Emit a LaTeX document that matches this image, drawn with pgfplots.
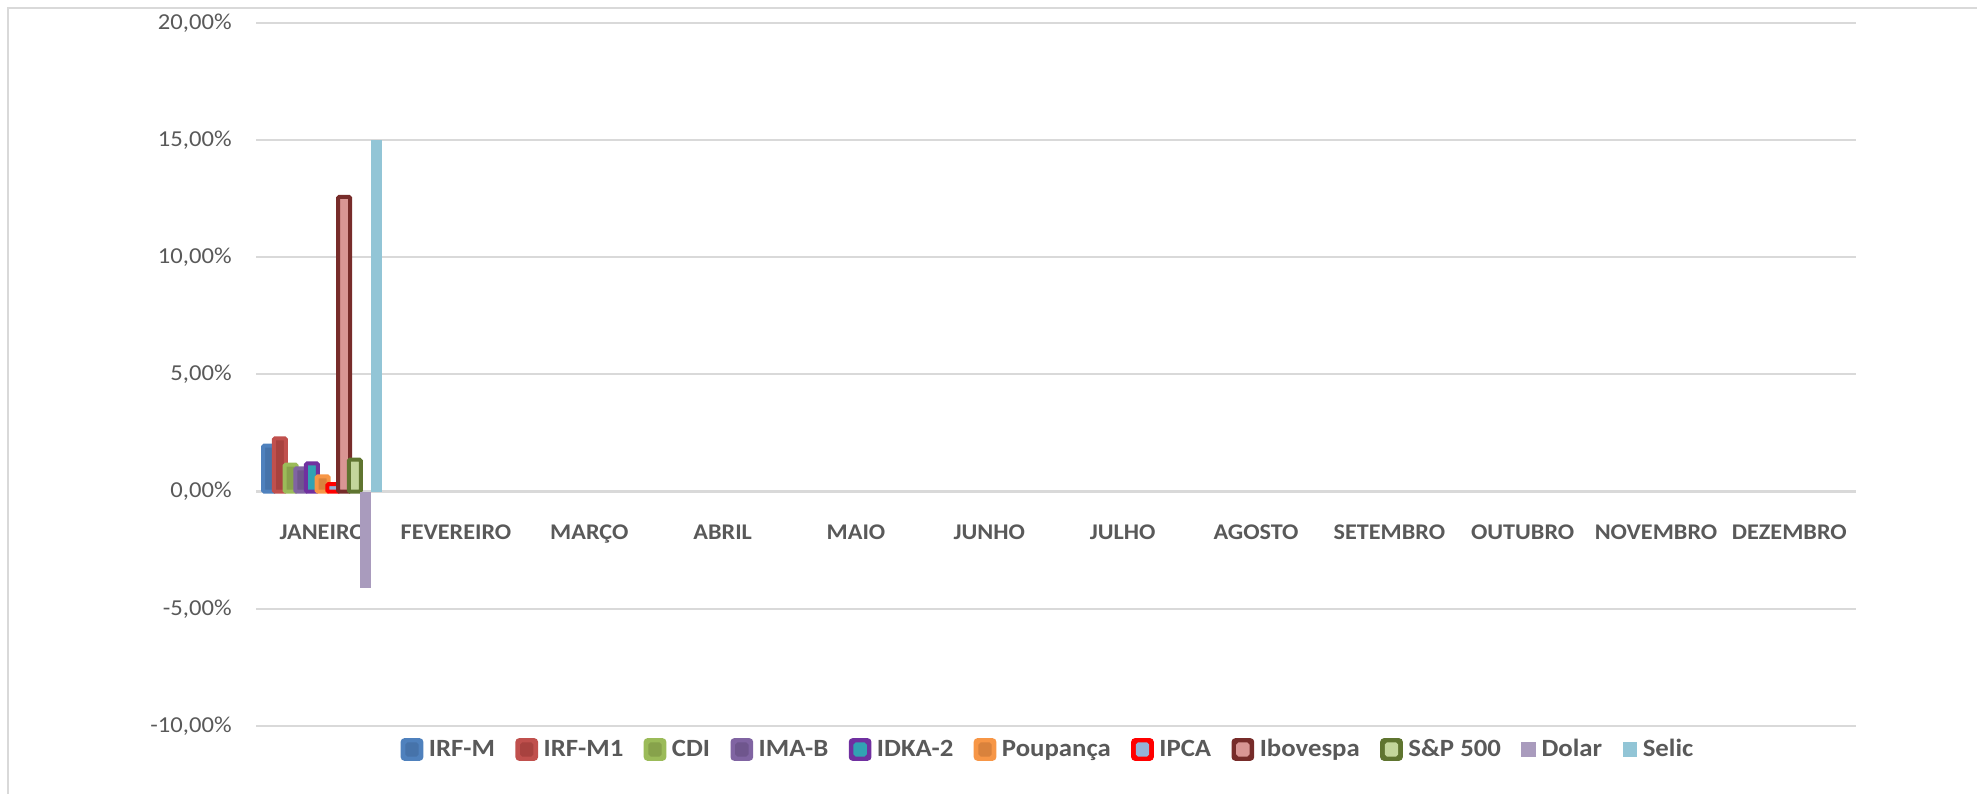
\documentclass[border=0pt]{standalone}
\usepackage{pgfplots}
\pgfplotsset{compat=1.18}
\usepackage{fontspec}
\setmainfont{Carlito}[FakeStretch=1.08]
\definecolor{cgrid}{HTML}{D9D9D9}
\definecolor{ctext}{HTML}{595959}
\definecolor{irfmB}{HTML}{4F81BD}\definecolor{irfmI}{HTML}{4673AA}
\definecolor{irfmoB}{HTML}{C0504D}\definecolor{irfmoI}{HTML}{A8423F}
\definecolor{cdiB}{HTML}{9BBB59}\definecolor{cdiI}{HTML}{87A24B}
\definecolor{imabB}{HTML}{8064A2}\definecolor{imabI}{HTML}{6F568D}
\definecolor{idkaB}{HTML}{7030A0}\definecolor{idkaI}{HTML}{31A2B3}
\definecolor{poupB}{HTML}{F79646}\definecolor{poupI}{HTML}{D9823C}
\definecolor{ipcaB}{HTML}{FF0000}\definecolor{ipcaI}{HTML}{95B3D7}
\definecolor{iboB}{HTML}{772C2A}\definecolor{iboI}{HTML}{D99694}
\definecolor{spB}{HTML}{5F7530}\definecolor{spI}{HTML}{C3D69B}
\definecolor{dolC}{HTML}{A99BBD}
\definecolor{selC}{HTML}{92C5D6}
\pgfplotsset{
  bb/.style 2 args={ybar, bar width=6bp, draw=#1, fill=#2, line width=2bp, rounded corners=0.6bp,
    legend image code/.code={\fill[#1, rounded corners=1bp] (0bp,-4.65bp) rectangle (9.3bp,4.65bp);
      \fill[#2] (2.3bp,-2.6bp) rectangle (7bp,2.6bp);}},
  pb/.style={ybar, bar width=5.5bp, draw=none, fill=#1,
    legend image code/.code={\fill[#1] (1bp,-3.7bp) rectangle (8.3bp,3.7bp);}},
}
\begin{document}
\begin{tikzpicture}
\useasboundingbox (0,0) rectangle (988.5bp,397bp);
\draw[cgrid, line width=1.3bp] (4bp,0) -- (4bp,393bp) -- (988.5bp,393bp);
\begin{axis}[
  at={(128bp,34bp)}, anchor=south west,
  scale only axis, width=800bp, height=351.65bp,
  xmin=-0.5, xmax=11.5, ymin=-10, ymax=20,
  axis x line*=middle, axis y line*=left,
  hide obscured x ticks=false, hide obscured y ticks=false,
  x axis line style={draw=cgrid, line width=1.3bp},
  y axis line style={draw=none},
  major tick length=0pt,
  ytick={-10,-5,0,5,10,15,20},
  yticklabels={{-10,00\%},{-5,00\%},{0,00\%},{5,00\%},{10,00\%},{15,00\%},{20,00\%}},
  xtick={0,...,11},
  xticklabels={JANEIRO,FEVEREIRO,MARÇO,ABRIL,MAIO,JUNHO,JULHO,AGOSTO,SETEMBRO,OUTUBRO,NOVEMBRO,DEZEMBRO},
  ymajorgrids, grid style={cgrid, line width=0.9bp},
  yticklabel style={anchor=east, inner sep=0pt, xshift=-12bp, text=ctext, font=\fontsize{11.4bp}{13bp}\selectfont},
  xticklabel style={anchor=base, inner sep=0pt, yshift=-24.2bp, text=ctext, font=\bfseries\fontsize{11.2bp}{13bp}\selectfont},
  legend columns=11,
  legend style={at={(0.495,-0.0334)}, anchor=center, draw=none, fill=none,
    font=\bfseries\fontsize{12.4bp}{14bp}\selectfont, text=ctext,
    /tikz/every odd column/.append style={column sep=1.8bp},
    /tikz/every even column/.append style={column sep=9.2bp},
    nodes={inner sep=1bp}},
  clip=false,
]
\addplot[bb={irfmB}{irfmI}, bar shift=-26.75bp] coordinates {(0,1.96)};
\addlegendentry{IRF-M}
\addplot[bb={irfmoB}{irfmoI}, bar shift=-21.4bp] coordinates {(0,2.27)};
\addlegendentry{IRF-M1}
\addplot[bb={cdiB}{cdiI}, bar shift=-16.05bp] coordinates {(0,1.15)};
\addlegendentry{CDI}
\addplot[bb={imabB}{imabI}, bar shift=-10.7bp] coordinates {(0,0.99)};
\addlegendentry{IMA-B}
\addplot[bb={idkaB}{idkaI}, bar shift=-5.35bp] coordinates {(0,1.20)};
\addlegendentry{IDKA-2}
\addplot[bb={poupB}{poupI}, bar shift=0bp] coordinates {(0,0.65)};
\addlegendentry{Poupança}
\addplot[bb={ipcaB}{ipcaI}, bar shift=5.35bp] coordinates {(0,0.32)};
\addlegendentry{IPCA}
\addplot[bb={iboB}{iboI}, bar shift=10.7bp] coordinates {(0,12.57)};
\addlegendentry{Ibovespa}
\addplot[bb={spB}{spI}, bar shift=16.05bp] coordinates {(0,1.36)};
\addlegendentry{S\&P 500}
\addplot[pb=dolC, bar shift=21.4bp] coordinates {(0,-4.13)};
\addlegendentry{Dolar}
\addplot[pb=selC, bar shift=26.75bp] coordinates {(0,15.0)};
\addlegendentry{Selic}
\end{axis}
\end{tikzpicture}
\end{document}
